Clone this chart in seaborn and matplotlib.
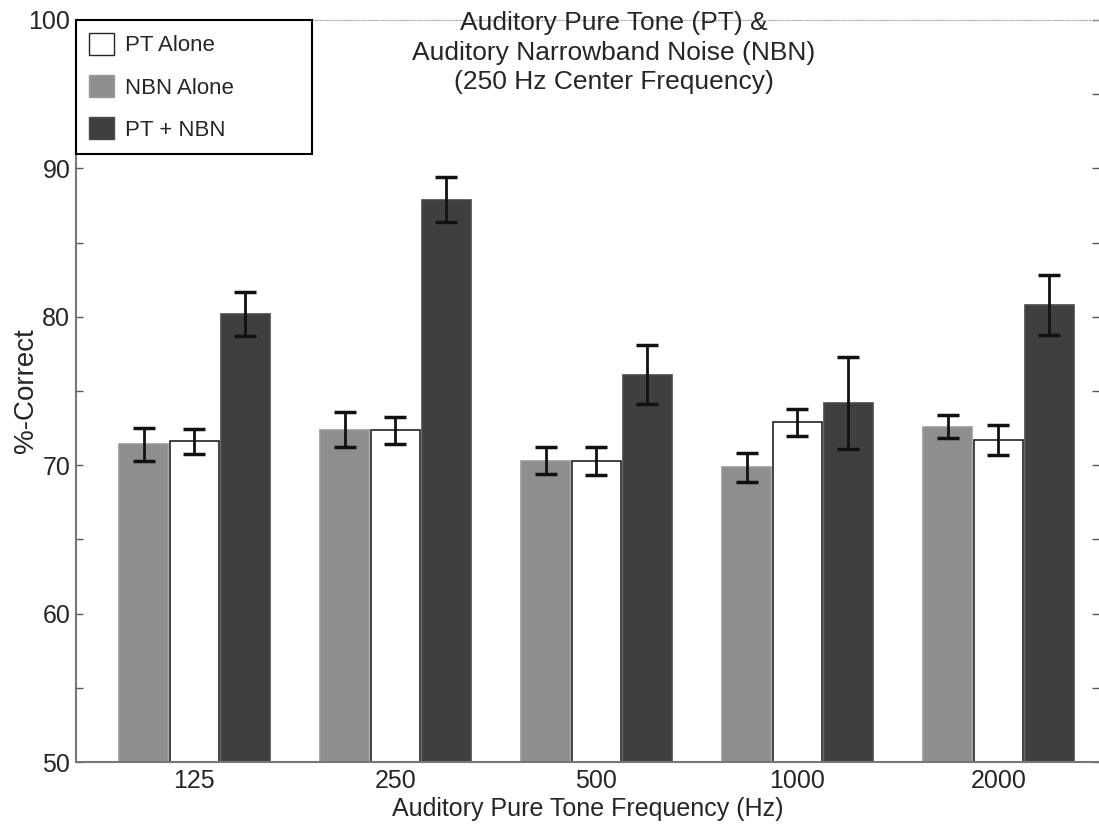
import pandas as pd
import numpy as np
import matplotlib
matplotlib.use("Agg")
import matplotlib.pyplot as plt
import seaborn as sns
from matplotlib.patches import Patch
from matplotlib.ticker import MultipleLocator

# Data
frequencies = ["125", "250", "500", "1000", "2000"]
conditions = ["NBN Alone", "PT Alone", "PT + NBN"]
nbn_alone = [71.4, 72.4, 70.3, 69.85, 72.6]
pt_alone = [71.6, 72.35, 70.3, 72.9, 71.7]
pt_nbn = [80.2, 87.9, 76.1, 74.2, 80.8]
nbn_err = [1.1, 1.2, 0.9, 1.0, 0.8]
pt_err = [0.85, 0.9, 0.95, 0.9, 1.0]
pt_nbn_err = [1.5, 1.5, 2.0, 3.1, 2.0]

df = pd.DataFrame({
    "freq": frequencies * 3,
    "cond": [c for c in conditions for _ in frequencies],
    "pct": nbn_alone + pt_alone + pt_nbn,
    "err": nbn_err + pt_err + pt_nbn_err,
})

colors = {"NBN Alone": "#8e8e8e", "PT Alone": "#ffffff", "PT + NBN": "#3f3f3f"}
edges = {"NBN Alone": "#9a9a9a", "PT Alone": "#222222", "PT + NBN": "#4a4a4a"}

sns.set_style("white")
plt.rcParams["font.family"] = ["Liberation Sans", "DejaVu Sans"]

fig = plt.figure(figsize=(10.99, 8.31), dpi=100)
ax = fig.add_axes([0.069, 0.083, 0.931, 0.893])

sns.barplot(data=df, x="freq", y="pct", hue="cond", order=frequencies,
            hue_order=conditions, palette=colors, width=0.76, gap=0.05,
            errorbar=None, legend=False, ax=ax)

# colour edges and error bars per condition
for cont, cond in zip(ax.containers, conditions):
    sub = df[df["cond"] == cond].set_index("freq").loc[frequencies]
    xs = []
    for bar in cont:
        bar.set_edgecolor(edges[cond])
        bar.set_linewidth(1.2)
        xs.append(bar.get_x() + bar.get_width() / 2)
    ax.errorbar(xs, sub["pct"].values, yerr=sub["err"].values, fmt="none",
                ecolor="#111111", elinewidth=2, capsize=8, capthick=2.5, zorder=5)

ax.set_ylim(50, 100)
ax.set_xlim(-0.59, 4.5)
ax.yaxis.set_major_locator(MultipleLocator(10))
ax.yaxis.set_minor_locator(MultipleLocator(5))
ax.tick_params(axis="y", which="both", direction="in", left=True, right=True,
               length=5, width=1, labelsize=18, color="#555555", pad=4)
ax.tick_params(axis="x", length=0, labelsize=18, pad=5)

for side in ["left", "bottom"]:
    ax.spines[side].set_color("#777777")
    ax.spines[side].set_linewidth(1.5)
ax.spines["top"].set_color("#aaaaaa")
ax.spines["top"].set_linestyle(":")
ax.spines["right"].set_visible(False)

ax.set_xlabel("Auditory Pure Tone Frequency (Hz)", fontsize=18, labelpad=3)
ax.set_ylabel("%-Correct", fontsize=20)
ax.yaxis.set_label_coords(-0.036, 0.5)

ax.text(0.526, 1.012, "Auditory Pure Tone (PT) &\nAuditory Narrowband Noise (NBN)\n(250 Hz Center Frequency)",
        transform=ax.transAxes, ha="center", va="top", fontsize=19, linespacing=1.3)

handles = [Patch(facecolor=colors[c], edgecolor="#222222" if c == "PT Alone" else edges[c], label=c)
           for c in ["PT Alone", "NBN Alone", "PT + NBN"]]
leg = ax.legend(handles=handles, loc="upper left", bbox_to_anchor=(0, 0.82, 0.231, 0.18),
                mode="expand", borderaxespad=0, fontsize=16, frameon=True, fancybox=False,
                handlelength=1.1, handleheight=1.1, handletextpad=0.5, labelspacing=0.85,
                borderpad=0.6)
leg.get_frame().set_edgecolor("black")
leg.get_frame().set_linewidth(1.5)
leg.get_frame().set_alpha(1)

fig.savefig("out.png", dpi=100)
